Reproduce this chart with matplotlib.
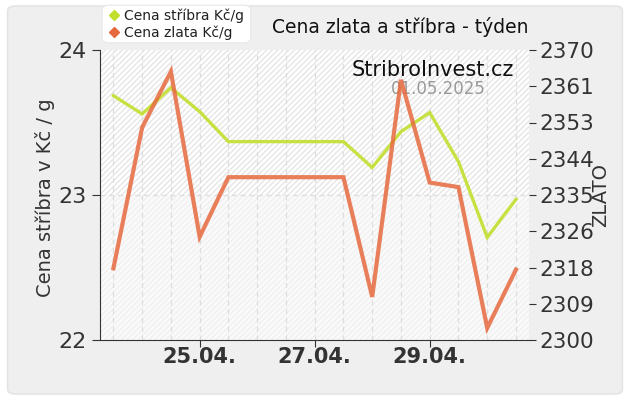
import matplotlib.pyplot as plt
import matplotlib.patches as mpatches
from matplotlib.lines import Line2D
import numpy as np

# half-day steps from 23.04. 12:00 to 30.04. 12:00
idx = np.arange(15)
stribro = [23.685, 23.559, 23.74, 23.575, 23.368, 23.368, 23.368, 23.368,
           23.368, 23.19, 23.437, 23.568, 23.23, 22.708, 22.97]
zlato = [2317.3, 2351.3, 2364.8, 2324.9, 2339.3, 2339.3, 2339.3, 2339.3,
         2339.3, 2310.4, 2362.8, 2338.0, 2336.9, 2302.9, 2317.0]
xtick_pos = [3, 7, 11]
xtick_lab = ['25.04.', '27.04.', '29.04.']
ytick_left = [22, 23, 24]
ytick_right = np.linspace(2300, 2370, 9)

c_silver = '#c3df2e'
c_gold = '#e66a3e'

fig = plt.figure(figsize=(6.3, 4.0), dpi=100)
fig.patch.set_facecolor('white')
fig.patches.append(mpatches.FancyBboxPatch(
    (0.012, 0.015), 0.976, 0.97, boxstyle='round,pad=0,rounding_size=0.012',
    transform=fig.transFigure, facecolor='#efefef', edgecolor='#e2e2e2',
    lw=1, zorder=-10))

ax = fig.add_axes([0.159, 0.15, 0.681, 0.725])
ax.set_facecolor('#fbfbfb')
ax.set_xlim(-0.46, 14.46)
ax.set_ylim(22, 24)

# background: hatched bands
ax.axhspan(23, 24, facecolor='white', edgecolor='#e6e6e6', hatch='//////',
           lw=0, zorder=0)
ax.axhspan(22, 23, facecolor='#fafafa', edgecolor='#f0f0f0', hatch='//////',
           lw=0, zorder=0)

for x in idx:
    ax.axvline(x, color='#dddddd', lw=0.9, ls=(0, (4, 3)), zorder=1)
ax.axhline(23, color='#dddddd', lw=0.9, ls=(0, (4, 3)), zorder=1)

ax.plot(idx, stribro, color=c_silver, lw=2.4, alpha=0.9, zorder=3,
        solid_joinstyle='miter')
ax.set_yticks(ytick_left)
ax.set_yticklabels([str(v) for v in ytick_left], fontsize=16, color='#333333')
ax.set_xticks(xtick_pos)
ax.set_xticklabels(xtick_lab, fontsize=15, color='#333333', fontweight='bold')
ax.tick_params(axis='x', length=5, color='#333333', pad=0)
ax.tick_params(axis='y', length=6, color='#333333', pad=4)
for s in ['top', 'right']:
    ax.spines[s].set_visible(False)
ax.spines['left'].set_color('#333333')
ax.spines['bottom'].set_color('#333333')

ax2 = ax.twinx()
ax2.set_ylim(2300, 2370)
ax2.plot(idx, zlato, color=c_gold, lw=3.0, alpha=0.85, zorder=4,
         solid_joinstyle='miter')
ax2.set_yticks(ytick_right)
ax2.set_yticklabels([str(int(np.floor(v + 0.5))) for v in ytick_right],
                    fontsize=15.5, color='#333333')
ax2.tick_params(axis='y', length=5, color='#333333', pad=2)
for s in ['top', 'right', 'left', 'bottom']:
    ax2.spines[s].set_visible(False)

fig.text(0.072, 0.507, 'Cena stříbra v Kč / g', rotation=90, fontsize=14,
         color='#333333', ha='center', va='center')
fig.text(0.954, 0.512, 'ZLATO', rotation=90, fontsize=14, color='#333333',
         ha='center', va='center')

fig.text(0.636, 0.932, 'Cena zlata a stříbra - týden', fontsize=13.5,
         color='#111111', ha='center', va='center')
ax.text(0.965, 0.93, 'StribroInvest.cz', transform=ax.transAxes,
        fontsize=15, color='#111111', ha='right', va='center', zorder=5)
ax.text(0.787, 0.865, '01.05.2025', transform=ax.transAxes, fontsize=12,
        color='#999999', ha='center', va='center', zorder=5)

# legend box
fig.patches.append(mpatches.FancyBboxPatch(
    (0.162, 0.893), 0.236, 0.094, boxstyle='round,pad=0,rounding_size=0.012',
    transform=fig.transFigure, facecolor='white', edgecolor='#e8e8e8',
    lw=0.8, zorder=5))
handles = [Line2D([], [], ls='none', marker='D', ms=5, color=c_silver),
           Line2D([], [], ls='none', marker='D', ms=5, color=c_gold)]
fig.legend(handles, ['Cena stříbra Kč/g', 'Cena zlata Kč/g'],
           loc='upper left', bbox_to_anchor=(0.161, 1.0), frameon=False,
           fontsize=10, handlelength=0.6, handletextpad=0.45,
           labelspacing=0.2, borderaxespad=0.2, labelcolor='#222222')

plt.savefig('out.png', dpi=100)
